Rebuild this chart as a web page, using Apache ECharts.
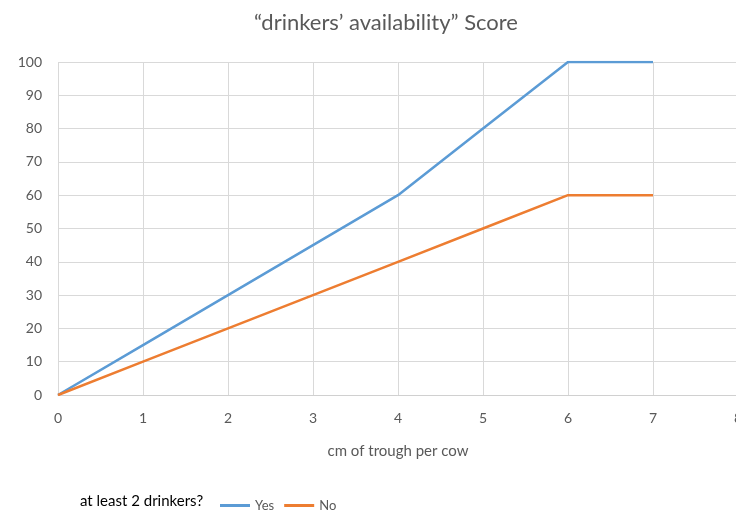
<!DOCTYPE html>
<html><head><meta charset="utf-8">
<script src="https://cdn.jsdelivr.net/npm/echarts@6/dist/echarts.min.js"></script>
<style>html,body{margin:0;padding:0;background:#fff}#c{width:736px;height:510px}</style>
</head><body><div id="c"></div>
<script>
const xValues = [0, 1, 2, 3, 4, 5, 6, 7];
const yesValues = [0, 15, 30, 45, 60, 80, 100, 100];
const noValues = [0, 10, 20, 30, 40, 50, 60, 60];
const seriesNames = ['Yes', 'No'];
const titleText = '\u201Cdrinkers\u2019 availability\u201D Score';
const xAxisName = 'cm of trough per cow';
const legendTitle = 'at least 2 drinkers?';

const font = 'Lato, "Open Sans", sans-serif';
const chart = echarts.init(document.getElementById('c'), null, {renderer: 'canvas'});
chart.setOption({
  animation: false,
  backgroundColor: '#fff',
  title: {
    text: titleText, left: 381, top: 7, textAlign: 'center',
    textStyle: {fontFamily: font, fontSize: 22, fontWeight: 'normal', color: '#595959'}
  },
  grid: {left: 58, top: 62, right: -2, bottom: 115, containLabel: false, outerBoundsMode: 'none'},
  xAxis: {
    type: 'value', min: 0, max: 8, interval: 1,
    name: xAxisName, nameLocation: 'middle', nameGap: 49,
    nameTextStyle: {fontFamily: font, fontSize: 15, color: '#595959'},
    axisLine: {show: true, lineStyle: {color: '#d0d0d0', width: 1}},
    axisTick: {show: false},
    axisLabel: {fontFamily: font, fontSize: 14, color: '#595959', margin: 16},
    splitLine: {show: true, lineStyle: {color: '#d9d9d9', width: 1}}
  },
  yAxis: {
    type: 'value', min: 0, max: 100, interval: 10,
    axisLine: {show: false}, axisTick: {show: false},
    axisLabel: {fontFamily: font, fontSize: 14, color: '#595959', margin: 16},
    splitLine: {show: true, lineStyle: {color: '#d9d9d9', width: 1}}
  },
  legend: {
    left: 215, top: 494, itemWidth: 30, itemHeight: 3, itemGap: 10,
    icon: 'rect',
    textStyle: {fontFamily: font, fontSize: 13, color: '#595959'},
    data: seriesNames
  },
  graphic: [{
    type: 'text', left: 80, top: 494,
    style: {text: legendTitle, fontFamily: font, fontSize: 15, fill: '#000'}
  }],
  series: [
    {name: seriesNames[0], type: 'line', data: xValues.map((x, i) => [x, yesValues[i]]),
     showSymbol: false, lineStyle: {color: '#5B9BD5', width: 2.5}, itemStyle: {color: '#5B9BD5'}},
    {name: seriesNames[1], type: 'line', data: xValues.map((x, i) => [x, noValues[i]]),
     showSymbol: false, lineStyle: {color: '#ED7D31', width: 2.5}, itemStyle: {color: '#ED7D31'}}
  ]
});
</script></body></html>
